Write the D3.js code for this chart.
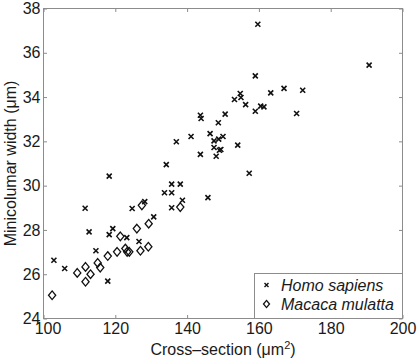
<!DOCTYPE html>
<html>
<head>
<meta charset="utf-8">
<script src="https://cdn.jsdelivr.net/npm/d3@7"></script>
<style>
  body { margin: 0; background: #fff; }
  text { font-family: "Liberation Sans", Arial, sans-serif; fill: #1a1a1a; }
</style>
</head>
<body>
<svg id="chart"></svg>
<script>
const width = 420;
const height = 362;

// Homo sapiens: [cross-section, minicolumnar width]
const homoSapiens = [
  [159.7, 37.29], [190.7, 35.44], [159.0, 34.96], [167.0, 34.39], [172.2, 34.31],
  [163.3, 34.19], [154.8, 34.16], [155.0, 33.98], [153.2, 33.89], [156.3, 33.66],
  [160.5, 33.59], [161.4, 33.56], [159.0, 33.36], [170.5, 33.26], [150.6, 33.23],
  [143.7, 33.18], [143.9, 33.03], [148.7, 32.84], [146.4, 32.35], [141.1, 32.22],
  [150.0, 32.22], [147.5, 32.02], [148.8, 32.10], [154.1, 31.83], [147.5, 31.72],
  [149.0, 31.60], [149.4, 31.63], [143.7, 31.41], [148.1, 31.33], [157.3, 30.56],
  [137.0, 31.98], [134.2, 30.95], [135.7, 30.07], [138.1, 30.07], [133.7, 29.68],
  [135.7, 29.68], [135.7, 29.00], [138.7, 29.34], [145.8, 29.46], [130.7, 28.59],
  [128.2, 29.28], [124.7, 28.97], [118.3, 30.43], [111.6, 28.98], [112.7, 27.91],
  [119.3, 28.06], [118.3, 27.79], [123.2, 27.65], [126.6, 27.48], [114.6, 27.06],
  [102.9, 26.63], [105.9, 26.26], [117.9, 25.69]
];

// Macaca mulatta
const macacaMulatta = [
  [102.4, 25.05], [109.4, 26.06], [111.7, 25.66], [111.7, 26.33], [113.1, 26.00],
  [115.1, 26.51], [115.8, 26.30], [117.9, 26.82], [120.5, 27.01], [121.4, 27.71],
  [122.8, 27.16], [123.3, 27.01], [123.9, 27.01], [126.0, 28.06], [127.0, 27.06],
  [129.3, 28.28], [129.2, 27.24], [127.4, 29.11], [138.1, 29.03]
];

const xTicks = [100, 120, 140, 160, 180, 200];
const yTicks = [24, 26, 28, 30, 32, 34, 36, 38];
const seriesNames = ["Homo sapiens", "Macaca mulatta"];

const mLeft = 43.5, mRight = 402.5, mTop = 8.5, mBottom = 318.5;
const boxColor = "#8c8c8c";

const svg = d3.select("#chart").attr("width", width).attr("height", height);

const x = d3.scaleLinear().domain([100, 200]).range([mLeft, mRight]);
const y = d3.scaleLinear().domain([24, 38]).range([mBottom, mTop]);

// box
svg.append("rect")
  .attr("x", mLeft).attr("y", mTop)
  .attr("width", mRight - mLeft).attr("height", mBottom - mTop)
  .attr("fill", "none").attr("stroke", boxColor).attr("stroke-width", 1);

// ticks inward on all four sides (matlab style)
const tl = 3.5;
const xAxisG = svg.append("g").attr("transform", `translate(0,${mBottom})`)
  .call(d3.axisBottom(x).tickValues(xTicks).tickSize(-tl).tickPadding(4).tickFormat(d3.format("d")))
  .call(g => g.select(".domain").remove());
svg.append("g").attr("transform", `translate(0,${mTop})`)
  .call(d3.axisTop(x).tickValues(xTicks).tickSize(-tl).tickFormat(""))
  .call(g => g.select(".domain").remove());
svg.append("g").attr("transform", `translate(${mLeft},0)`)
  .call(d3.axisLeft(y).tickValues(yTicks).tickSize(-tl).tickPadding(3).tickFormat(d3.format("d")))
  .call(g => g.select(".domain").remove());
svg.append("g").attr("transform", `translate(${mRight},0)`)
  .call(d3.axisRight(y).tickValues(yTicks).tickSize(-tl).tickFormat(""))
  .call(g => g.select(".domain").remove());

// first x label sits a little right of its tick, clear of the "24"
xAxisG.selectAll(".tick text").filter(d => d === 100).attr("dx", 4);

svg.selectAll(".tick line").attr("stroke", boxColor);
svg.selectAll(".tick text")
  .attr("font-size", 16)
  .attr("font-family", "Liberation Sans, Arial, sans-serif")
  .attr("fill", "#1a1a1a");

// axis labels
svg.append("text")
  .attr("x", (mLeft + mRight) / 2).attr("y", 355)
  .attr("text-anchor", "middle").attr("font-size", 16)
  .html('Cross\u2013section (\u03bcm<tspan dy="-6" font-size="11">2</tspan><tspan dy="6">)</tspan>');

svg.append("text")
  .attr("transform", `translate(16,${(mTop + mBottom) / 2}) rotate(-90)`)
  .attr("text-anchor", "middle").attr("font-size", 16)
  .text("Minicolumar width (\u03bcm)");

const crossPath = s => `M${-s},${-s}L${s},${s}M${-s},${s}L${s},${-s}`;
const diamondPath = (w, h) => `M0,${-h}L${w},0L0,${h}L${-w},0Z`;

// points
svg.append("g").selectAll("path")
  .data(macacaMulatta).join("path")
  .attr("transform", d => `translate(${x(d[0])},${y(d[1])})`)
  .attr("d", diamondPath(3.6, 4.3))
  .attr("fill", "none").attr("stroke", "#111").attr("stroke-width", 1.3);

svg.append("g").selectAll("path")
  .data(homoSapiens).join("path")
  .attr("transform", d => `translate(${x(d[0])},${y(d[1])})`)
  .attr("d", crossPath(2.5))
  .attr("fill", "none").attr("stroke", "#111").attr("stroke-width", 1.6);

// legend
const legend = svg.append("g");
legend.append("rect")
  .attr("x", 254.5).attr("y", 273.5)
  .attr("width", mRight - 254.5).attr("height", mBottom - 273.5)
  .attr("fill", "#fff").attr("stroke", boxColor);

legend.append("path")
  .attr("transform", "translate(266.5,285)")
  .attr("d", crossPath(2))
  .attr("stroke", "#111").attr("stroke-width", 1.4);
legend.append("path")
  .attr("transform", "translate(266.5,304)")
  .attr("d", diamondPath(3, 3.6))
  .attr("fill", "none").attr("stroke", "#111").attr("stroke-width", 1.3);

legend.selectAll("text.lab")
  .data(seriesNames).join("text")
  .attr("class", "lab")
  .attr("x", 281).attr("y", (d, i) => 290.8 + i * 18.8)
  .attr("font-size", 16).attr("font-style", "italic")
  .text(d => d);
</script>
</body>
</html>
